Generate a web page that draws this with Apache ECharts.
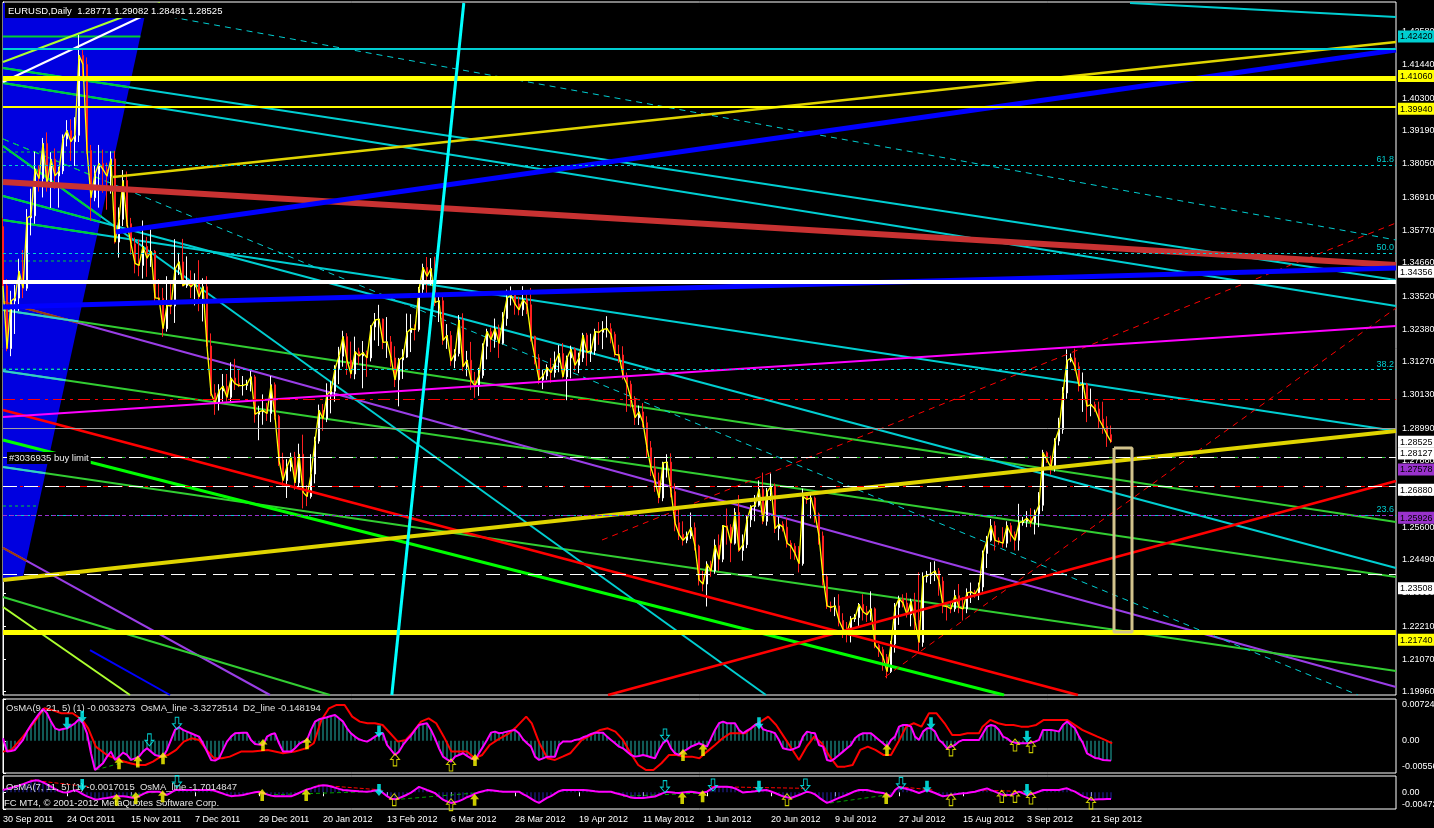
<!DOCTYPE html>
<html><head><meta charset="utf-8">
<script src="https://cdn.jsdelivr.net/npm/echarts@6/dist/echarts.min.js"></script>
<style>html,body{margin:0;padding:0;background:#000;overflow:hidden}#c{width:1434px;height:828px}</style>
</head><body><div id="c"></div>
<script>
// ---------------- DATA ----------------
// EURUSD daily bars [open, close, low, high], bar index 0 = 30 Sep 2011
const candles = [
[1.3590,1.3387,1.3380,1.3620],[1.3387,1.3172,1.3163,1.3410],[1.3172,1.3335,1.3146,1.3370],[1.3335,1.3345,1.3222,1.3390],[1.3345,1.3437,1.3300,1.3480],
[1.3437,1.3379,1.3345,1.3510],[1.3379,1.3620,1.3370,1.3650],[1.3620,1.3627,1.3560,1.3720],[1.3627,1.3787,1.3600,1.3847],[1.3787,1.3755,1.3710,1.3800],
[1.3755,1.3875,1.3690,1.3894],[1.3875,1.3734,1.3710,1.3913],[1.3734,1.3821,1.3654,1.3845],[1.3821,1.3764,1.3720,1.3858],[1.3764,1.3781,1.3655,1.3795],
[1.3781,1.3891,1.3770,1.3906],[1.3891,1.3919,1.3865,1.3955],[1.3919,1.3881,1.3815,1.3958],[1.3881,1.3903,1.3798,1.3965],[1.3903,1.4177,1.3880,1.4247],
[1.4177,1.4146,1.4090,1.4200],[1.4146,1.3851,1.3840,1.4170],[1.3851,1.3689,1.3610,1.3870],[1.3689,1.3771,1.3677,1.3800],[1.3771,1.3806,1.3655,1.3870],
[1.3806,1.3786,1.3706,1.3854],[1.3786,1.3763,1.3648,1.3809],[1.3763,1.3822,1.3703,1.3848],[1.3822,1.3537,1.3532,1.3850],[1.3537,1.3615,1.3484,1.3656],
[1.3615,1.3748,1.3592,1.3784],[1.3748,1.3600,1.3590,1.3779],[1.3600,1.3531,1.3494,1.3620],[1.3531,1.3464,1.3430,1.3552],[1.3464,1.3457,1.3420,1.3545],
[1.3457,1.3522,1.3412,1.3611],[1.3522,1.3482,1.3418,1.3555],[1.3482,1.3505,1.3452,1.3580],[1.3505,1.3346,1.3330,1.3510],[1.3346,1.3344,1.3322,1.3410],
[1.3344,1.3240,1.3212,1.3380],[1.3240,1.3320,1.3230,1.3420],[1.3320,1.3318,1.3290,1.3405],[1.3318,1.3444,1.3260,1.3547],[1.3444,1.3469,1.3424,1.3500],
[1.3469,1.3387,1.3385,1.3548],[1.3387,1.3398,1.3380,1.3488],[1.3398,1.3384,1.3345,1.3440],[1.3384,1.3399,1.3320,1.3430],[1.3399,1.3349,1.3300,1.3475],
[1.3349,1.3384,1.3265,1.3413],[1.3384,1.3181,1.3179,1.3420],[1.3181,1.3020,1.3009,1.3224],[1.3020,1.2985,1.2945,1.3050],[1.2985,1.3027,1.2960,1.3050],
[1.3027,1.3043,1.2990,1.3085],[1.3043,1.3005,1.2990,1.3085],[1.3005,1.3071,1.2990,1.3125],[1.3071,1.3052,1.3030,1.3137],[1.3052,1.3045,1.3040,1.3103],
[1.3045,1.3046,1.3011,1.3078],[1.3046,1.3050,1.3030,1.3065],[1.3050,1.3075,1.3025,1.3095],[1.3075,1.2947,1.2918,1.3082],[1.2947,1.2955,1.2858,1.2976],
[1.2955,1.2960,1.2911,1.3015],[1.2960,1.2950,1.2924,1.2986],[1.2950,1.3048,1.2920,1.3078],[1.3048,1.2940,1.2928,1.3056],[1.2940,1.2790,1.2770,1.2945],
[1.2790,1.2720,1.2702,1.2815],[1.2720,1.2767,1.2660,1.2793],[1.2767,1.2800,1.2751,1.2815],[1.2800,1.2712,1.2688,1.2818],[1.2712,1.2810,1.2695,1.2846],
[1.2810,1.2680,1.2624,1.2877],[1.2680,1.2665,1.2632,1.2704],[1.2665,1.2742,1.2658,1.2810],[1.2742,1.2855,1.2710,1.2870],[1.2855,1.2960,1.2846,1.2980],
[1.2960,1.2932,1.2890,1.2982],[1.2932,1.3015,1.2920,1.3053],[1.3015,1.3026,1.2950,1.3060],[1.3026,1.3103,1.2990,1.3115],[1.3103,1.3146,1.3050,1.3178],
[1.3146,1.3213,1.3110,1.3233],[1.3213,1.3132,1.3082,1.3225],[1.3132,1.3085,1.3070,1.3196],[1.3085,1.3161,1.3067,1.3213],[1.3161,1.3147,1.3116,1.3175],
[1.3147,1.3158,1.3036,1.3198],[1.3158,1.3140,1.3075,1.3165],[1.3140,1.3246,1.3128,1.3252],[1.3246,1.3270,1.3200,1.3294],[1.3270,1.3273,1.3181,1.3322],
[1.3273,1.3193,1.3170,1.3275],[1.3193,1.3195,1.3140,1.3280],[1.3195,1.3140,1.3110,1.3215],[1.3140,1.3065,1.3040,1.3180],[1.3065,1.3133,1.2974,1.3140],
[1.3133,1.3143,1.3068,1.3170],[1.3143,1.3227,1.3140,1.3292],[1.3227,1.3240,1.3160,1.3290],[1.3240,1.3237,1.3200,1.3255],[1.3237,1.3375,1.3230,1.3383],
[1.3375,1.3450,1.3354,1.3463],[1.3450,1.3420,1.3360,1.3486],[1.3420,1.3446,1.3389,1.3482],[1.3446,1.3330,1.3318,1.3487],[1.3330,1.3336,1.3263,1.3355],
[1.3336,1.3200,1.3185,1.3358],[1.3200,1.3217,1.3171,1.3256],[1.3217,1.3130,1.3113,1.3232],[1.3130,1.3155,1.3105,1.3170],[1.3155,1.3270,1.3145,1.3287],
[1.3270,1.3110,1.3095,1.3293],[1.3110,1.3132,1.3077,1.3164],[1.3132,1.3062,1.3030,1.3195],[1.3062,1.3044,1.3003,1.3092],[1.3044,1.3080,1.3010,1.3106],
[1.3080,1.3180,1.3070,1.3190],[1.3180,1.3230,1.3135,1.3240],[1.3230,1.3203,1.3160,1.3244],[1.3203,1.3240,1.3175,1.3275],[1.3240,1.3190,1.3140,1.3254],
[1.3190,1.3275,1.3186,1.3297],[1.3275,1.3345,1.3250,1.3374],[1.3345,1.3356,1.3320,1.3385],[1.3356,1.3325,1.3288,1.3366],[1.3325,1.3305,1.3286,1.3350],
[1.3305,1.3340,1.3284,1.3386],[1.3340,1.3322,1.3290,1.3360],[1.3322,1.3214,1.3196,1.3380],[1.3214,1.3140,1.3118,1.3216],[1.3140,1.3065,1.3050,1.3153],
[1.3065,1.3078,1.3033,1.3100],[1.3078,1.3107,1.3065,1.3118],[1.3107,1.3090,1.3055,1.3140],[1.3090,1.3125,1.3073,1.3162],[1.3125,1.3155,1.3091,1.3184],
[1.3155,1.3075,1.3070,1.3191],[1.3075,1.3140,1.2995,1.3148],[1.3140,1.3170,1.3070,1.3182],[1.3170,1.3115,1.3093,1.3176],[1.3115,1.3140,1.3088,1.3158],
[1.3140,1.3218,1.3126,1.3226],[1.3218,1.3159,1.3113,1.3226],[1.3159,1.3165,1.3126,1.3223],[1.3165,1.3230,1.3150,1.3240],[1.3230,1.3228,1.3185,1.3263],
[1.3228,1.3238,1.3170,1.3266],[1.3238,1.3240,1.3210,1.3283],[1.3240,1.3221,1.3190,1.3259],[1.3221,1.3152,1.3144,1.3230],[1.3152,1.3150,1.3123,1.3185],
[1.3150,1.3080,1.3066,1.3180],[1.3080,1.3050,1.2955,1.3090],[1.3050,1.3000,1.2970,1.3062],[1.3000,1.2935,1.2910,1.3009],[1.2935,1.2955,1.2910,1.2977],
[1.2955,1.2918,1.2902,1.2985],[1.2918,1.2832,1.2800,1.2940],[1.2832,1.2763,1.2735,1.2855],[1.2763,1.2719,1.2681,1.2800],[1.2719,1.2660,1.2642,1.2747],
[1.2660,1.2780,1.2649,1.2784],[1.2780,1.2783,1.2730,1.2810],[1.2783,1.2682,1.2662,1.2813],[1.2682,1.2575,1.2546,1.2710],[1.2575,1.2535,1.2516,1.2625],
[1.2535,1.2515,1.2497,1.2580],[1.2515,1.2530,1.2505,1.2545],[1.2530,1.2558,1.2520,1.2610],[1.2558,1.2495,1.2480,1.2576],[1.2495,1.2380,1.2360,1.2500],
[1.2380,1.2365,1.2340,1.2410],[1.2365,1.2433,1.2288,1.2443],[1.2433,1.2410,1.2390,1.2445],[1.2410,1.2498,1.2400,1.2518],[1.2498,1.2450,1.2410,1.2535],
[1.2450,1.2565,1.2440,1.2567],[1.2565,1.2560,1.2500,1.2624],[1.2560,1.2505,1.2440,1.2570],[1.2505,1.2610,1.2500,1.2625],[1.2610,1.2480,1.2475,1.2670],
[1.2480,1.2500,1.2445,1.2535],[1.2500,1.2585,1.2488,1.2598],[1.2585,1.2630,1.2560,1.2635],[1.2630,1.2635,1.2580,1.2670],[1.2635,1.2690,1.2630,1.2720],
[1.2690,1.2580,1.2570,1.2747],[1.2580,1.2680,1.2565,1.2694],[1.2680,1.2700,1.2650,1.2744],[1.2700,1.2555,1.2540,1.2710],[1.2555,1.2570,1.2515,1.2595],
[1.2570,1.2560,1.2545,1.2580],[1.2560,1.2505,1.2490,1.2590],[1.2505,1.2495,1.2450,1.2515],[1.2495,1.2470,1.2448,1.2505],[1.2470,1.2435,1.2405,1.2495],
[1.2435,1.2665,1.2428,1.2692],[1.2665,1.2655,1.2640,1.2680],[1.2655,1.2660,1.2590,1.2680],[1.2660,1.2605,1.2575,1.2665],[1.2605,1.2530,1.2500,1.2610],
[1.2530,1.2390,1.2360,1.2545],[1.2390,1.2290,1.2280,1.2400],[1.2290,1.2285,1.2270,1.2305],[1.2285,1.2290,1.2255,1.2320],[1.2290,1.2240,1.2220,1.2330],
[1.2240,1.2210,1.2180,1.2265],[1.2210,1.2200,1.2165,1.2235],[1.2200,1.2245,1.2165,1.2255],[1.2245,1.2250,1.2235,1.2262],[1.2250,1.2295,1.2220,1.2300],
[1.2295,1.2270,1.2240,1.2330],[1.2270,1.2260,1.2235,1.2290],[1.2260,1.2280,1.2240,1.2340],[1.2280,1.2155,1.2145,1.2285],[1.2155,1.2140,1.2115,1.2160],
[1.2140,1.2115,1.2068,1.2150],[1.2115,1.2065,1.2042,1.2125],[1.2065,1.2160,1.2060,1.2170],[1.2160,1.2285,1.2130,1.2300],[1.2285,1.2315,1.2225,1.2325],
[1.2315,1.2300,1.2285,1.2330],[1.2300,1.2260,1.2250,1.2335],[1.2260,1.2305,1.2220,1.2315],[1.2305,1.2240,1.2200,1.2335],[1.2240,1.2165,1.2135,1.2405],
[1.2165,1.2390,1.2150,1.2405],[1.2390,1.2395,1.2370,1.2410],[1.2395,1.2400,1.2365,1.2440],[1.2400,1.2410,1.2375,1.2443],[1.2410,1.2375,1.2325,1.2420],
[1.2375,1.2290,1.2265,1.2390],[1.2290,1.2288,1.2240,1.2300],[1.2288,1.2280,1.2265,1.2300],[1.2280,1.2325,1.2270,1.2345],[1.2325,1.2285,1.2265,1.2365],
[1.2285,1.2280,1.2240,1.2320],[1.2280,1.2335,1.2265,1.2350],[1.2335,1.2338,1.2300,1.2370],[1.2338,1.2330,1.2318,1.2345],[1.2330,1.2355,1.2310,1.2370],
[1.2355,1.2470,1.2340,1.2480],[1.2470,1.2515,1.2420,1.2530],[1.2515,1.2565,1.2510,1.2588],[1.2565,1.2515,1.2480,1.2580],[1.2515,1.2510,1.2500,1.2525],
[1.2510,1.2505,1.2490,1.2560],[1.2505,1.2565,1.2490,1.2580],[1.2565,1.2535,1.2510,1.2575],[1.2535,1.2515,1.2480,1.2545],[1.2515,1.2575,1.2480,1.2640],
[1.2575,1.2580,1.2565,1.2595],[1.2580,1.2590,1.2560,1.2615],[1.2590,1.2575,1.2560,1.2625],[1.2575,1.2605,1.2535,1.2620],[1.2605,1.2635,1.2560,1.2680],
[1.2635,1.2815,1.2615,1.2825],[1.2815,1.2790,1.2780,1.2820],[1.2790,1.2765,1.2740,1.2805],[1.2765,1.2855,1.2750,1.2865],[1.2855,1.2895,1.2840,1.2935],
[1.2895,1.3020,1.2880,1.3040],[1.3020,1.3130,1.3000,1.3169],[1.3130,1.3140,1.3125,1.3155],[1.3140,1.3110,1.3095,1.3172],[1.3110,1.3045,1.3025,1.3125],
[1.3045,1.3050,1.2955,1.3090],[1.3050,1.2975,1.2920,1.3055],[1.2975,1.2980,1.2940,1.3035],[1.2980,1.2965,1.2955,1.2990],[1.2965,1.2930,1.2900,1.2990],
[1.2930,1.2905,1.2880,1.2990],[1.2905,1.2877,1.2835,1.2940],[1.28771,1.28525,1.28481,1.29082]
];
const dateLabels = ['30 Sep 2011','24 Oct 2011','15 Nov 2011','7 Dec 2011','29 Dec 2011','20 Jan 2012','13 Feb 2012','6 Mar 2012','28 Mar 2012','19 Apr 2012','11 May 2012','1 Jun 2012','20 Jun 2012','9 Jul 2012','27 Jul 2012','15 Aug 2012','3 Sep 2012','21 Sep 2012'];
const barsPerLabel = 16;
const priceTicks = [1.42580,1.41440,1.40300,1.39190,1.38050,1.36910,1.35770,1.34660,1.33520,1.32380,1.31270,1.30130,1.28990,1.27880,1.26740,1.25600,1.24490,1.23350,1.22210,1.21070,1.19960];
const priceMin = 1.19847, priceMax = 1.43599, barsMax = 348.25;
// price tags on the axis
const tagYellow = [1.41060,1.39940,1.21740];
const tagWhite = [1.34356,1.28525,1.28127,1.26880,1.23508];
const tagPurple = [1.27578,1.25926];
const tagCyan = [1.42420];
// horizontal levels
const hYellowThick = [1.41060,1.21740];
const hYellowThin = [1.39940];
const hWhiteThick = [1.34356];
const hCyan = [1.42420];
const hBid = [1.28525];
const hOrders = [1.28127,1.26880,1.23508];
const hGreenDash = [1.27880];
const hPurpleDash = [1.27578,1.25926];
const hRedDashDot = [1.29958,1.27147];
const fibLevels = [1.38458,1.34722,1.31020,1.26325];
const fibNames = ['61.8','50.0','38.2','23.6'];
const orderText = '#3036935 buy limit';
// trend lines [bar1, price1, bar2, price2]
const cyanLines = [[0,1.41337,348.25,1.34071],[0,1.40823,348.25,1.33180],[0,1.36128,348.25,1.28895],[0,1.36950,348.25,1.24200],[0,1.38664,190.75,1.19847],[281.75,1.43565,348.25,1.43085]];
const cyanThick = [[115.2,1.43565,97.2,1.19847]];
const cyanDashed = [[39.25,1.43154,348.25,1.35442],[0,1.38904,338.75,1.19847]];
const yellowThin = [[27.5,1.37601,348.25,1.42228]];
const yellowThick = [[0,1.23789,348.25,1.28895]];
const blueThick = [[0,1.33145,348.25,1.34482],[28.25,1.35716,348.25,1.41954]];
const blueThin = [[21.75,1.21389,41.75,1.19847]];
const redThick = [[0,1.37430,348.25,1.34585]];
const redLines = [[0,1.29615,268.75,1.19847],[151.25,1.19847,348.25,1.27181]];
const redDashed = [[149.75,1.25159,348.25,1.36025],[220.5,1.20464,348.25,1.33111]];
const whiteThin = [[0,1.40857,35.5,1.43154]];
const limeLines = [[0,1.41543,39.25,1.43565],[0,1.22863,31.75,1.19847]];
const magentaLines = [[0,1.29375,348.25,1.32494]];
const purpleLines = [[0,1.33317,348.25,1.20121],[0,1.24886,66.75,1.19847]];
const greenLines = [[0,1.33043,348.25,1.25776],[0,1.30952,348.25,1.23891],[0,1.27661,348.25,1.20670],[0,1.23206,81.75,1.19847]];
const brightGreen = [[0,1.28587,250.25,1.19847]];
const bluePoly = [[0,1.43565],[36.15,1.43565],[4.9,1.23857],[0,1.23720]];
const orderBox = [277.75,1.28313,282.25,1.22006];

// OsMA(9,21,5) in units of 0.00001
const osma1 = [44,-186,-175,-157,-71,16,160,275,373,465,552,477,333,217,189,206,217,258,304,373,304,131,-215,-503,-446,-388,-273,-186,-330,-273,-204,-244,-330,-302,-273,-186,-129,-186,-244,-261,-273,-157,16,189,235,189,160,131,102,73,-42,-186,-330,-342,-302,-157,-13,73,131,137,142,142,16,-54,-65,-71,73,114,131,-42,-186,-186,-186,-129,-54,-13,16,189,333,373,390,408,431,448,390,333,217,131,73,27,4,-13,27,73,114,131,-71,-157,-244,-186,-71,16,91,189,275,292,304,189,44,-129,-273,-319,-359,-273,-244,-215,-261,-302,-330,-215,-100,16,142,160,131,142,160,177,189,131,27,-42,-100,-273,-330,-302,-273,-273,-273,-71,-13,-13,-13,16,27,62,85,119,142,142,142,73,16,-42,-100,-129,-186,-244,-273,-261,-244,-261,-284,-302,-157,-42,16,-129,-215,-244,-186,-146,-100,-71,-42,-71,-100,44,189,304,333,304,304,304,189,131,177,217,275,304,200,177,160,131,16,-129,-146,-157,-129,-100,73,160,142,131,-71,-100,-330,-348,-302,-244,-186,-129,-71,44,102,131,131,131,73,16,-42,-100,16,73,246,275,275,246,73,16,160,217,217,160,16,-42,-129,-100,-71,-13,16,16,16,16,16,131,246,275,258,189,73,44,-13,-31,-42,-42,-42,-31,-13,16,189,189,189,177,160,275,333,275,217,73,-42,-215,-255,-296,-307,-330,-336,-342];
const d2line1 = [[0,-186],[2.1,-157],[5,73],[7.9,333],[10.3,563],[12.2,535],[14.6,477],[17.4,477],[19.8,362],[21.3,217],[23.2,-100],[26,-244],[28.9,-330],[31.8,-388],[33.7,-417],[35.6,-417],[37.5,-359],[39.4,-273],[41.3,-244],[43.3,-157],[45.2,-13],[47.1,44],[49,16],[50.9,-157],[52.8,-302],[54.7,-302],[56.7,-273],[59.5,-186],[62.4,-186],[66.2,-157],[70,-215],[72.9,-186],[75.8,-129],[77.7,-42],[79.6,362],[81.5,563],[83.4,621],[85.4,621],[87.3,419],[89.2,333],[91.1,304],[93,304],[94.9,275],[96.8,131],[98.7,-13],[100.7,16],[102.6,160],[104.5,333],[106.4,390],[108.3,304],[110.2,73],[112.1,-186],[114.1,-186],[116,-186],[117.9,-302],[119.8,-244],[121.7,-71],[123.6,16],[126.5,131],[128.4,246],[130.8,419],[132.2,304],[134.1,-42],[136.1,-302],[138,-330],[139.9,-273],[141.8,-215],[144.7,16],[147.1,102],[149.3,189],[151.2,217],[153.1,160],[155,16],[156.9,-215],[158.8,-417],[160.7,-503],[162.6,-503],[164.6,-388],[166.5,-244],[168.4,-244],[170.3,-273],[172.2,-273],[174.1,-302],[176,-186],[178,-71],[179.9,44],[181.8,131],[183.7,131],[185.6,131],[187.5,246],[189.4,333],[191.3,419],[193.3,275],[195.2,73],[197.1,-129],[199,-330],[200.9,-100],[202.8,73],[204.7,-42],[206.7,-273],[208.6,-446],[210.5,-446],[212.4,-417],[214.3,-157],[216.2,-100],[218.1,-157],[220.1,-244],[222,-244],[223.9,-13],[225.8,246],[227.7,304],[229.6,246],[231.5,477],[233.4,477],[235.4,304],[237.3,102],[239.2,102],[241.1,131],[244,131],[244.9,246],[246.8,362],[248.8,304],[250.7,275],[252.6,275],[254.5,246],[256.4,246],[258.3,275],[260.2,362],[262.2,362],[266,362],[267.9,275],[269.8,189],[271.7,131],[273.6,73],[275.5,16],[277.3,-42]];
const p1Green = [[23.2,-503,33.7,-302]];
const p1UpFilled = [[29,-388],[33.7,-359],[40,-302],[65,-71],[76,-42],[118,-330],[170,-244],[175,-157],[221,-157]];
const p1DownFilled = [[16,304],[19.8,419],[94,160],[189,304],[232,304],[256,73]];
const p1DownHollow = [[36.6,16],[43.5,304],[165.5,102]];
const p1UpHollow = [[98,-330],[112,-417],[237,-157],[253,-71],[257,-100]];
const osma1Ticks = [724,0,-556];
// OsMA(7,11,5) in units of 0.00001, one value per bar
const osma2 = [63,95,125,157,190,230,270,310,335,330,280,220,160,95,40,0,-10,30,60,10,-60,-115,-160,-205,-195,-175,-160,-140,-115,-115,-115,-130,-145,-160,-110,-50,5,16,16,16,-30,-75,-10,60,63,63,63,63,63,63,63,63,63,40,0,-40,-80,-110,-100,-90,-75,-50,-25,0,16,-20,-60,-95,-115,-115,-115,-115,-115,-70,-20,30,80,110,150,180,200,190,160,130,95,63,55,45,35,25,18,16,30,50,63,-20,-110,-180,-200,-165,-120,-70,-10,70,150,110,63,20,-25,-120,-210,-260,-300,-280,-250,-200,-140,-100,-40,0,30,60,55,40,25,16,16,16,16,16,-50,-110,-180,-250,-300,-230,-160,-110,-40,30,63,63,63,63,63,63,55,40,25,16,16,16,16,-20,-50,-80,-110,-150,-162,-162,-162,-150,-135,-120,-70,-25,10,0,-15,-20,-5,10,16,0,-20,-5,16,90,155,157,157,157,140,110,50,-10,5,16,30,45,55,60,20,-20,-70,-115,-140,-162,-120,-77,-30,16,-10,-60,-150,-230,-300,-260,-210,-160,-115,-70,-20,30,63,63,63,35,10,-5,-20,-60,-115,60,150,120,90,63,20,-20,20,60,20,-20,-70,-115,-95,-77,-60,-45,-30,-20,0,16,50,80,110,60,16,-30,-77,-77,-77,-30,16,-30,-77,-50,-21,20,63,63,63,63,63,90,110,60,16,-50,-115,-160,-209,-205,-200,-197,-193,-190];
const p2Red = [[6.9,345,21.3,157],[78.7,204,94.9,63],[177,157,201,110],[223.9,157,232.5,63],[244.9,63,255.5,16]];
const p2Green = [[23.2,-209,39.4,16],[66,-77,91,16],[97.8,-209,118,-21],[155,-115,175,-21],[206.7,-303,221,-77]];
const p2UpFilled = [[28.4,-209],[33.2,-162],[39.9,-115],[64.8,-77],[75.8,-77],[117.9,-209],[169.8,-162],[174.9,-115],[220.8,-162]];
const p2DownFilled = [[19.8,204],[94,63],[189,157],[231,157],[256,63]];
const p2DownHollow = [[43.5,298],[165.5,157],[177.5,204],[200.6,204],[224.5,251]];
const p2UpHollow = [[97.8,-209],[112,-350],[196,-209],[237,-209],[249.7,-115],[253,-115],[257,-162],[272,-303]];
const osma2Ticks = [458,0,-472];
const titleMain = 'EURUSD,Daily  1.28771 1.29082 1.28481 1.28525';
const titleP1 = 'OsMA(9, 21, 5) (1) -0.0033273  OsMA_line -3.3272514  D2_line -0.148194';
const titleP2 = 'OsMA(7, 11, 5) (1) -0.0017015  OsMA_line -1.7014847';
const copyright = 'FC MT4, \u00a9 2001-2012 MetaQuotes Software Corp.';

// ---------------- CHART ----------------
const FONT = 'Liberation Sans';
const ARROW = 'path://M5,0 L10,6 L7,6 L7,13 L3,13 L3,6 L0,6 Z';
const C_CYAN = '#00ced1', C_GREEN = '#32cd32', C_PURPLE = '#9a3ee6', C_FILL = '#0000e0';
// colours that the XOR-style fill gives to background lines inside it
const xorWith = (hex) => '#' + [1, 3, 5].map(k => (parseInt(hex.substr(k, 2), 16) ^ parseInt(C_FILL.substr(k, 2), 16)).toString(16).padStart(2, '0')).join('');
const chart = echarts.init(document.getElementById('c'));

function segs(list, style, z, xi, yi) {
  return list.map(s => ({
    type: 'line', xAxisIndex: xi || 0, yAxisIndex: yi || 0, z: z || 4, silent: true,
    symbol: 'none', clip: true, animation: false,
    data: [[s[0], s[1]], [s[2], s[3]]], lineStyle: style
  }));
}
function hlines(values, style, extra) {
  return values.map((v, k) => Object.assign({ yAxis: v, lineStyle: style, label: { show: false } }, extra ? extra(k) : {}));
}
function hSeries(items, z) {
  return { type: 'line', xAxisIndex: 0, yAxisIndex: 0, z, data: [[-10, 1.3]], symbol: 'none', silent: true,
    markLine: { silent: true, symbol: ['none', 'none'], animation: false, label: { show: false }, data: items } };
}
// clip a pixel segment to a convex polygon (Cyrus-Beck)
function clipToPoly(a, b, poly) {
  let area = 0;
  for (let i = 0; i < poly.length; i++) { const j = (i + 1) % poly.length; area += poly[i][0] * poly[j][1] - poly[j][0] * poly[i][1]; }
  const s = area > 0 ? 1 : -1, dx = b[0] - a[0], dy = b[1] - a[1];
  let t0 = 0, t1 = 1;
  for (let i = 0; i < poly.length; i++) {
    const p = poly[i], q = poly[(i + 1) % poly.length], ex = q[0] - p[0], ey = q[1] - p[1];
    const num = s * (ex * (a[1] - p[1]) - ey * (a[0] - p[0]));
    const den = s * (ex * dy - ey * dx);
    if (Math.abs(den) < 1e-9) { if (num < 0) return null; }
    else { const t = -num / den; if (den > 0) t0 = Math.max(t0, t); else t1 = Math.min(t1, t); }
  }
  if (t0 >= t1) return null;
  return [[a[0] + dx * t0, a[1] + dy * t0], [a[0] + dx * t1, a[1] + dy * t1]];
}
const inArr = (arr, v) => arr.some(a => Math.abs(a - v) < 1e-7);
const tagKind = v => inArr(tagYellow, v) ? 'y' : inArr(tagPurple, v) ? 'p' : inArr(tagCyan, v) ? 'c' : 'w';
const tagStyle = (bg, fg) => ({ backgroundColor: bg, color: fg, fontSize: 9, fontFamily: FONT, padding: [2, 4, 1, 2], width: 33 });
const dateTicks = dateLabels.map((_, k) => k * barsPerLabel);
const panelLabel = (ticks) => (v) => {
  const t = v === 0 ? '0.00' : (v / 1e5).toFixed(5);
  if (v === ticks[0]) return '{t|' + t + '}';
  if (v === ticks[2]) return '{b|' + t + '}';
  return '{m|' + t + '}';
};
const lblRich = (pt, pb) => ({
  t: { color: '#fff', fontSize: 9, fontFamily: FONT, padding: [pt, 0, 0, 0] },
  b: { color: '#fff', fontSize: 9, fontFamily: FONT, padding: [0, 0, pb, 0] },
  m: { color: '#fff', fontSize: 9, fontFamily: FONT }
});

const xAxes = [0, 1, 2].map(g => ({
  type: 'value', gridIndex: g, min: 0, max: barsMax, show: g === 2,
  axisLine: { show: false }, splitLine: { show: false },
  axisTick: { show: true, customValues: dateTicks, length: 4, lineStyle: { color: '#fff' } },
  axisLabel: { show: true, customValues: dateTicks, align: 'left', margin: 6, color: '#fff', fontSize: 9, fontFamily: FONT,
    formatter: v => dateLabels[Math.round(v / barsPerLabel)] || '' }
}));

const yAxes = [
  { type: 'value', gridIndex: 0, position: 'right', min: priceMin, max: priceMax, scale: true,
    axisLine: { show: true, lineStyle: { color: '#fff' } }, splitLine: { show: false },
    axisTick: { show: true, customValues: priceTicks, length: 3, lineStyle: { color: '#fff' } },
    axisLabel: { customValues: priceTicks, margin: 6, color: '#fff', fontSize: 9, fontFamily: FONT, formatter: v => v.toFixed(5) } },
  { type: 'value', gridIndex: 0, position: 'right', min: priceMin, max: priceMax, scale: true,
    axisLine: { show: false }, axisTick: { show: false }, splitLine: { show: false },
    axisLabel: { customValues: tagYellow.concat(tagWhite, tagPurple, tagCyan), margin: 2,
      formatter: v => '{' + tagKind(v) + '|' + v.toFixed(5) + '}',
      rich: { y: tagStyle('#ffff00', '#000'), w: tagStyle('#ffffff', '#000'), p: tagStyle('#9932cc', '#000'), c: tagStyle('#00ced1', '#000') } } },
  { type: 'value', gridIndex: 1, position: 'right', min: osma1Ticks[2], max: osma1Ticks[0],
    axisLine: { show: true, lineStyle: { color: '#fff' } }, splitLine: { show: false },
    axisTick: { show: true, customValues: osma1Ticks, length: 3, lineStyle: { color: '#fff' } },
    axisLabel: { customValues: osma1Ticks, margin: 6, formatter: panelLabel(osma1Ticks), rich: lblRich(12, 12) } },
  { type: 'value', gridIndex: 2, position: 'right', min: osma2Ticks[2], max: osma2Ticks[0],
    axisLine: { show: true, lineStyle: { color: '#fff' } }, splitLine: { show: false },
    axisTick: { show: true, customValues: osma2Ticks, length: 3, lineStyle: { color: '#fff' } },
    axisLabel: { customValues: osma2Ticks, margin: 6, formatter: panelLabel(osma2Ticks), rich: lblRich(18, 8) } }
];

// background line groups: [segments, colour, width, dash]
const bgGroups = [
  [purpleLines, C_PURPLE, 2, null],
  [greenLines, C_GREEN, 2, null],
  [cyanDashed, C_CYAN, 1, [6, 5]],
  [cyanLines, C_CYAN, 2, null],
  [fibLevels.map(v => [0, v, barsMax, v]), C_CYAN, 1, [3, 3]],
  [hCyan.map(v => [0, v, barsMax, v]), C_CYAN, 2, null]
];

const series = [];
// filled area (background object)
series.push({ type: 'custom', xAxisIndex: 0, yAxisIndex: 0, z: 0.5, silent: true, data: [[0, 1.3]],
  renderItem: (p, api) => ({ type: 'polygon', shape: { points: bluePoly.map(q => api.coord(q)) }, style: { fill: C_FILL } }) });
// background lines
series.push(...segs(purpleLines, { color: C_PURPLE, width: 2 }, 1));
series.push(...segs(greenLines, { color: C_GREEN, width: 2 }, 1));
series.push(...segs(cyanDashed, { color: C_CYAN, width: 1, type: [6, 5] }, 1));
series.push(...segs(cyanLines, { color: C_CYAN, width: 2 }, 1));
series.push(hSeries([].concat(
  hlines(fibLevels, { color: C_CYAN, width: 1, type: [3, 3] }, k => ({ label: { show: true, position: 'insideEndTop', formatter: fibNames[k], color: C_CYAN, fontSize: 9, fontFamily: FONT, distance: [2, 1] } })),
  hlines(hCyan, { color: C_CYAN, width: 2, type: 'solid' })
), 1));
// the parts of background lines that lie inside the fill take the XOR colour
series.push({ type: 'custom', xAxisIndex: 0, yAxisIndex: 0, z: 1.2, silent: true, data: [[0, 1.3]],
  renderItem: (p, api) => {
    const poly = bluePoly.map(q => api.coord(q));
    const children = [];
    bgGroups.forEach(([list, color, width, dash]) => list.forEach(s => {
      const c = clipToPoly(api.coord([s[0], s[1]]), api.coord([s[2], s[3]]), poly);
      if (c) children.push({ type: 'line', shape: { x1: c[0][0], y1: c[0][1], x2: c[1][0], y2: c[1][1] },
        style: { stroke: xorWith(color), lineWidth: width, lineDash: dash } });
    }));
    return { type: 'group', children };
  } });
// candles
series.push({ type: 'candlestick', xAxisIndex: 0, yAxisIndex: 0, z: 2, barWidth: 2,
  dimensions: ['x', 'open', 'close', 'lowest', 'highest'], encode: { x: 'x', y: ['open', 'close', 'lowest', 'highest'] },
  data: candles.map((c, i) => [i, c[0], c[1], c[2], c[3]]),
  itemStyle: { color: '#e8e8e8', color0: '#ff0000', borderColor: '#ffffff', borderColor0: '#ff2020', borderWidth: 1 } });
series.push({ type: 'line', xAxisIndex: 0, yAxisIndex: 0, z: 3, symbol: 'none', silent: true,
  data: candles.map((c, i) => [i, c[1]]), lineStyle: { color: '#ffff00', width: 1.3 } });
// foreground horizontal levels
series.push(hSeries([].concat(
  hRedDashDot.map(v => ({ yAxis: v, lineStyle: { color: '#ff0000', width: 1, type: [12, 5, 3, 5] }, label: { show: false } })),
  hlines(hPurpleDash, { color: '#9932cc', width: 1, type: [4, 3] }),
  hlines(hGreenDash, { color: C_GREEN, width: 1, type: [10, 4, 3, 4] }),
  hlines(hOrders, { color: '#ffffff', width: 1, type: [14, 7] }, k => k === 0 ? { label: { show: true, position: 'insideStartTop', formatter: orderText, color: '#f0f0f0', backgroundColor: '#000', padding: [1, 2, 1, 2], fontSize: 9.5, fontFamily: FONT, distance: [4, -7] } } : {}),
  hlines(hBid, { color: '#a0a0a0', width: 1, type: 'solid' }),
  hlines(hYellowThin, { color: '#ffff00', width: 2, type: 'solid' }),
  hlines(hWhiteThick, { color: '#ffffff', width: 4, type: 'solid' }),
  hlines(hYellowThick, { color: '#ffff00', width: 5, type: 'solid' })
), 4));
// foreground trend lines
series.push(...segs(brightGreen, { color: '#00ff00', width: 3 }, 4));
series.push(...segs(redDashed, { color: '#ff0000', width: 1, type: [6, 5] }, 4));
series.push(...segs(redLines, { color: '#ff0000', width: 2.5 }, 4));
series.push(...segs(magentaLines, { color: '#ff00ff', width: 2 }, 4));
series.push(...segs(limeLines, { color: '#adff2f', width: 2 }, 4));
series.push(...segs(whiteThin, { color: '#ffffff', width: 2 }, 4));
series.push(...segs(blueThin, { color: '#0000ff', width: 2 }, 4));
series.push(...segs(yellowThin, { color: '#e0d400', width: 2.5 }, 4));
series.push(...segs(yellowThick, { color: '#e0d400', width: 4 }, 4));
series.push(...segs(redThick, { color: '#c83232', width: 6 }, 4));
series.push(...segs(blueThick, { color: '#0000ff', width: 5 }, 4));
series.push(...segs(cyanThick, { color: '#00ffff', width: 3 }, 5));
// order box
series.push({ type: 'line', xAxisIndex: 0, yAxisIndex: 0, z: 5, symbol: 'none', silent: true, clip: false,
  data: [[orderBox[0], orderBox[1]], [orderBox[2], orderBox[1]], [orderBox[2], orderBox[3]], [orderBox[0], orderBox[3]], [orderBox[0], orderBox[1]]],
  lineStyle: { color: '#d2c38c', width: 3 } });
// panel 1
series.push({ type: 'bar', xAxisIndex: 1, yAxisIndex: 2, barWidth: 1, z: 2, silent: true,
  data: osma1.map((v, i) => [i, v]), itemStyle: { color: '#20b2aa' } });
series.push(...segs(p1Green, { color: '#00a000', width: 1, type: [4, 3] }, 3, 1, 2));
series.push({ type: 'line', xAxisIndex: 1, yAxisIndex: 2, z: 3, symbol: 'none', silent: true, data: d2line1, lineStyle: { color: '#ff0000', width: 2 } });
series.push({ type: 'line', xAxisIndex: 1, yAxisIndex: 2, z: 4, symbol: 'none', silent: true, data: osma1.map((v, i) => [i, v]), lineStyle: { color: '#ff00ff', width: 2 } });
const arrows = (data, xi, yi, color, rot, hollow) => ({ type: 'scatter', xAxisIndex: xi, yAxisIndex: yi, z: 6, silent: true, data,
  symbol: ARROW, symbolSize: [9, 12], symbolRotate: rot,
  itemStyle: hollow ? { color: 'rgba(0,0,0,0)', borderColor: color, borderWidth: 1 } : { color } });
series.push(arrows(p1UpFilled, 1, 2, '#ffff00', 0, false));
series.push(arrows(p1DownFilled, 1, 2, '#00ffff', 180, false));
series.push(arrows(p1DownHollow, 1, 2, '#00ffff', 180, true));
series.push(arrows(p1UpHollow, 1, 2, '#ffff00', 0, true));
// panel 2
series.push({ type: 'bar', xAxisIndex: 2, yAxisIndex: 3, barWidth: 1, z: 2, silent: true,
  data: osma2.map((v, i) => [i, v]), itemStyle: { color: '#2424a8' } });
series.push(...segs(p2Green, { color: '#00a000', width: 1, type: [4, 3] }, 3, 2, 3));
series.push(...segs(p2Red, { color: '#ff0000', width: 1, type: [4, 2] }, 3, 2, 3));
series.push({ type: 'line', xAxisIndex: 2, yAxisIndex: 3, z: 4, symbol: 'none', silent: true, data: osma2.map((v, i) => [i, v]), lineStyle: { color: '#ff00ff', width: 2 } });
series.push(arrows(p2UpFilled, 2, 3, '#ffff00', 0, false));
series.push(arrows(p2DownFilled, 2, 3, '#00ffff', 180, false));
series.push(arrows(p2DownHollow, 2, 3, '#00ffff', 180, true));
series.push(arrows(p2UpHollow, 2, 3, '#ffff00', 0, true));

const txt = (size, color) => ({ color: color || '#fff', fontSize: size, fontWeight: 'normal', fontFamily: FONT });
const gridBase = { left: 3, width: 1393, show: true, borderColor: '#fff', borderWidth: 1, backgroundColor: 'transparent', outerBoundsMode: 'none', containLabel: false };
chart.setOption({
  backgroundColor: '#000',
  animation: false,
  textStyle: { fontFamily: FONT },
  title: [
    { text: titleMain, left: 5, top: 3, padding: [3, 3, 2, 3], backgroundColor: '#000', textStyle: txt(9.5) },
    { text: titleP1, left: 6, top: 703, padding: 0, textStyle: txt(9.5, '#e0e0e0') },
    { text: titleP2, left: 6, top: 782, padding: 0, textStyle: txt(9.5, '#e0e0e0') },
    { text: copyright, left: 4, top: 798, padding: 0, textStyle: txt(9.5, '#e8e8e8') }
  ],
  grid: [
    Object.assign({ top: 2, height: 693 }, gridBase),
    Object.assign({ top: 699, height: 74 }, gridBase),
    Object.assign({ top: 776, height: 33 }, gridBase)
  ],
  xAxis: xAxes,
  yAxis: yAxes,
  series
});
</script></body></html>
